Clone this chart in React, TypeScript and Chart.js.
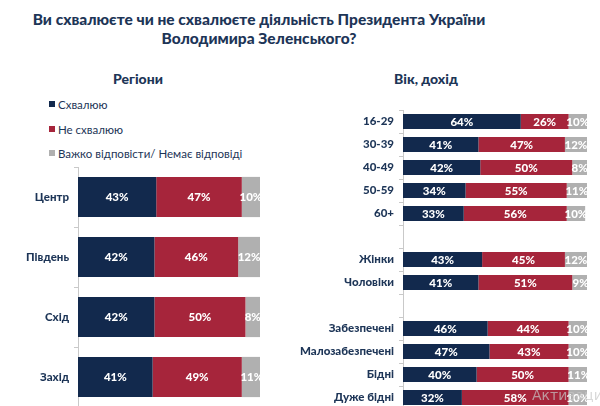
import React, { useEffect, useRef } from "react";
import { Chart, registerables } from "chart.js";

Chart.register(...registerables);

const FONT = "Lato, 'Noto Sans', sans-serif";
const NAVY = "#12294d";
const RED = "#a6253b";
const GRAY = "#b0b0b0";
const TEXT = "#1d3557";

const seriesNames = ["Схвалюю", "Не схвалюю", "Важко відповісти/ Немає відповіді"];

const regionLabels = ["Центр", "Південь", "Схід", "Захід"];
const regionApprove = [43, 42, 42, 41];
const regionDisapprove = [47, 46, 50, 49];
const regionHard = [10, 12, 8, 11];

const groupLabels = ["16-29", "30-39", "40-49", "50-59", "60+", "", "Жінки", "Чоловіки", "", "Забезпечені", "Малозабезпечені", "Бідні", "Дуже бідні"];
const groupApprove = [64, 41, 42, 34, 33, null, 43, 41, null, 46, 47, 40, 32];
const groupDisapprove = [26, 47, 50, 55, 56, null, 45, 51, null, 44, 43, 50, 58];
const groupHard = [10, 12, 8, 11, 10, null, 12, 9, null, 10, 10, 11, 10];

const valueLabelPlugin = {
  id: "valueLabels",
  afterDatasetsDraw(chart: any) {
    const ctx = chart.ctx;
    ctx.save();
    ctx.fillStyle = "#ffffff";
    ctx.font = `900 11.5px ${FONT}`;
    ctx.textAlign = "center";
    ctx.textBaseline = "middle";
    chart.data.datasets.forEach((ds: any, i: number) => {
      const meta = chart.getDatasetMeta(i);
      meta.data.forEach((bar: any, j: number) => {
        const v = ds.data[j];
        if (v == null) return;
        const p = bar.getProps(["x", "y", "base"], true);
        ctx.fillText(v + "%", (p.x + p.base) / 2, p.y + 0.5);
      });
    });
    ctx.restore();
  },
};

function makeConfig(labels: string[], a: any[], d: any[], h: any[], yWidth: number, padding: any, barPct: number) {
  const mk = (label: string, data: any[], color: string) => ({
    label,
    data,
    backgroundColor: color,
    borderWidth: 0,
    categoryPercentage: 1,
    barPercentage: barPct,
  });
  return {
    type: "bar",
    data: {
      labels,
      datasets: [mk(seriesNames[0], a, NAVY), mk(seriesNames[1], d, RED), mk(seriesNames[2], h, GRAY)],
    },
    options: {
      indexAxis: "y",
      animation: false,
      responsive: false,
      devicePixelRatio: 1,
      layout: { padding },
      plugins: { legend: { display: false }, tooltip: { enabled: false } },
      scales: {
        x: { stacked: true, min: 0, max: 100, display: false },
        y: {
          stacked: true,
          afterFit: (s: any) => {
            s.width = yWidth;
            s.paddingTop = 0;
            s.paddingBottom = 0;
          },
          grid: {
            offset: true,
            drawOnChartArea: false,
            drawTicks: true,
            tickLength: 4,
            color: "#c9c9c9",
          },
          border: { color: "#c9c9c9" },
          ticks: {
            padding: 5,
            color: TEXT,
            font: { family: FONT, size: 11.5, weight: "900" },
          },
        },
      },
    },
    plugins: [valueLabelPlugin],
  };
}

function BarCanvas(props: { config: any; width: number; height: number; style: any }) {
  const ref = useRef<HTMLCanvasElement>(null);
  useEffect(() => {
    const chart = new Chart(ref.current as any, props.config);
    return () => chart.destroy();
  }, []);
  return <canvas ref={ref} width={props.width} height={props.height} style={{ position: "absolute", ...props.style }} />;
}

export default function App() {
  useEffect(() => {
    document.body.style.margin = "0";
  }, []);
  const leftCfg = makeConfig(regionLabels, regionApprove, regionDisapprove, regionHard, 78, { top: 7, bottom: 3, right: 40, left: 0 }, 0.67);
  const rightCfg = makeConfig(groupLabels, groupApprove, groupDisapprove, groupHard, 103, { top: 10, bottom: 1, right: 13, left: 0 }, 0.65);
  const legendColors = [NAVY, RED, GRAY];
  const legendY = [104, 129, 153];
  return (
    <div style={{ position: "fixed", left: 0, top: 0, width: 600, height: 406, background: "#fff", overflow: "hidden", fontFamily: FONT, color: TEXT }}>
      <div style={{ position: "absolute", left: -41, width: 600, top: 10, textAlign: "center", fontSize: 15.5, fontWeight: 900, lineHeight: "19px", whiteSpace: "nowrap" }}>
        Ви схвалюєте чи не схвалюєте діяльність Президента України
        <br />
        Володимира Зеленського?
      </div>
      <div style={{ position: "absolute", left: 38, width: 200, top: 70, textAlign: "center", fontSize: 14, fontWeight: 900, lineHeight: "18px" }}>Регіони</div>
      <div style={{ position: "absolute", left: 326, width: 200, top: 70, textAlign: "center", fontSize: 14, fontWeight: 900, lineHeight: "18px" }}>Вік, дохід</div>
      {seriesNames.map((n, i) => (
        <div key={n} style={{ position: "absolute", left: 49, top: legendY[i] - 8, height: 16, display: "flex", alignItems: "center", fontSize: 11.5, whiteSpace: "nowrap" }}>
          <span style={{ display: "inline-block", width: 6, height: 6, background: legendColors[i], marginRight: 3 }} />
          {n}
        </div>
      ))}
      <BarCanvas config={leftCfg} width={300} height={250} style={{ left: 0, top: 160 }} />
      <BarCanvas config={rightCfg} width={300} height={310} style={{ left: 300, top: 100 }} />
      <div style={{ position: "absolute", left: 532, top: 387, fontSize: 14, color: "rgba(200,200,200,0.7)", fontFamily: "'DejaVu Sans', sans-serif", whiteSpace: "nowrap" }}>Активация</div>
    </div>
  );
}
